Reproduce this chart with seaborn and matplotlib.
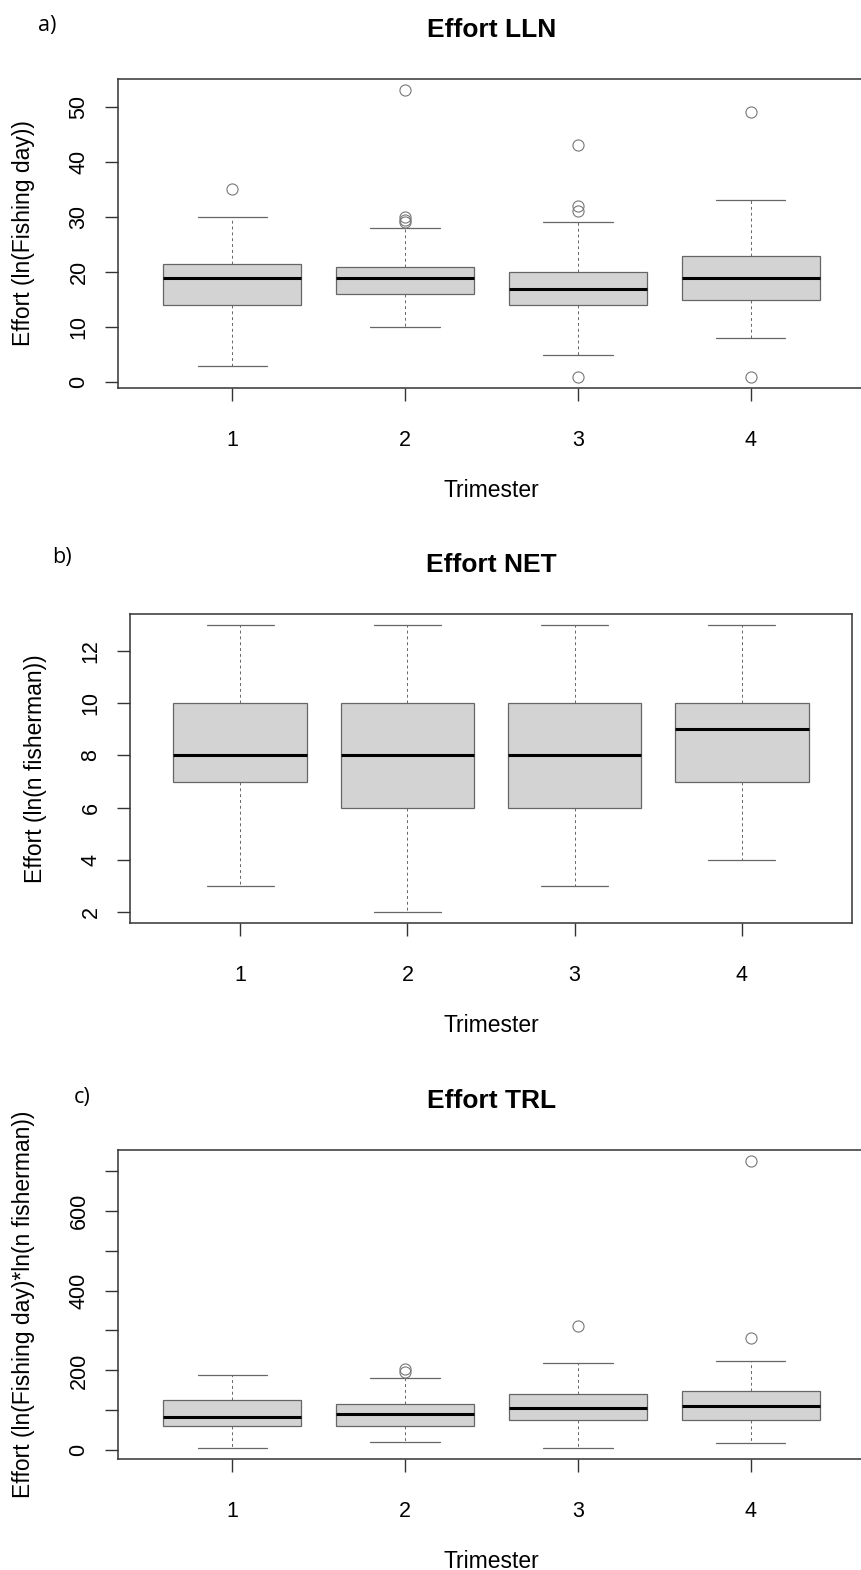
import pandas as pd
import numpy as np
import matplotlib
matplotlib.use("Agg")
import matplotlib.pyplot as plt
import seaborn as sns

# trimester categories on the x axis
trimesters = ["1", "2", "3", "4"]

# Effort LLN (ln fishing day), one list per trimester
lln_t1 = [3, 10, 14, 17, 19, 20, 21.5, 30, 35]
lln_t2 = [10, 12, 13, 14, 15, 16, 17, 17, 18, 18.5, 19, 19.5, 20, 20, 20.5, 21,
          28, 29, 29.5, 30, 53]
lln_t3 = [1, 5, 9, 12, 14, 15, 16, 16.5, 17, 18, 18.5, 19, 20, 29, 31, 32, 43]
lln_t4 = [1, 8, 15, 17, 19, 21, 23, 33, 49]

# Effort NET (ln n fisherman)
net_t1 = [3, 5, 7, 7, 8, 9, 10, 12, 13]
net_t2 = [2, 4, 6, 7, 8, 9, 10, 12, 13]
net_t3 = [3, 5, 6, 7, 8, 9, 10, 11, 13]
net_t4 = [4, 6, 7, 8, 9, 9, 10, 12, 13]

# Effort TRL (ln fishing day * ln n fisherman)
trl_t1 = [7, 40, 61, 75, 83, 100, 126, 160, 188]
trl_t2 = [21, 40, 55, 62, 75, 85, 91, 100, 108, 115, 181, 197, 203]
trl_t3 = [7, 50, 75, 90, 105, 120, 141, 218, 312]
trl_t4 = [18, 40, 60, 75, 90, 100, 112, 125, 135, 148, 224, 281, 723]

lln_ticks = [0, 10, 20, 30, 40, 50]
net_ticks = [2, 4, 6, 8, 10, 12]
trl_ticks = [0, 100, 200, 300, 400, 500, 600, 700]
trl_ticklabels = ["0", "", "200", "", "400", "", "600", ""]

BOX_FILL = "#d3d3d3"
LINE = "#666666"
W, H = 862, 1570


def r_ylim(groups):
    # R extends the data range by 4% on each side
    lo = min(min(g) for g in groups)
    hi = max(max(g) for g in groups)
    pad = (hi - lo) * 0.04
    return lo - pad, hi + pad


def panel(rect, groups, title, ylabel, yticks, yticklabels, tag, tag_xy):
    l, t, r, b = rect
    ax = fig.add_axes([l / W, 1 - b / H, (r - l) / W, (b - t) / H])
    df = pd.DataFrame({
        "Trimester": np.repeat(trimesters, [len(g) for g in groups]),
        "effort": np.concatenate(groups),
    })
    sns.boxplot(data=df, x="Trimester", y="effort", order=trimesters, ax=ax,
                color=BOX_FILL, saturation=1, linecolor=LINE, linewidth=0.9,
                width=0.8, fliersize=8,
                whiskerprops=dict(linestyle=(0, (3, 3)), linewidth=0.7),
                capprops=dict(linewidth=0.9),
                medianprops=dict(color="black", linewidth=2.2),
                flierprops=dict(marker="o", markerfacecolor="none",
                                markeredgecolor="#777777", markeredgewidth=0.8))
    ax.set_xlim(-0.66, 3.66)
    ax.set_ylim(*r_ylim(groups))
    ax.set_yticks(yticks)
    ax.set_yticklabels(yticklabels, rotation=90, va="center")
    ax.tick_params(axis="both", direction="out", length=9.5, width=1,
                   color="#333333", labelcolor="black", labelsize=15.5)
    ax.tick_params(axis="y", pad=11)
    ax.tick_params(axis="x", pad=21)
    for s in ax.spines.values():
        s.set_visible(True)
        s.set_color("#333333")
        s.set_linewidth(1.1)
    ax.set_xlabel("Trimester", fontsize=16.5, labelpad=20, color="black")
    ax.set_ylabel(ylabel, fontsize=16.5, labelpad=24, color="black")
    ax.set_title(title, fontsize=19, fontweight="bold", pad=30, color="black")
    fig.text(tag_xy[0] / W, 1 - tag_xy[1] / H, tag, fontsize=15.5,
             family=["Open Sans", "DejaVu Sans"], ha="center", va="center",
             color="black")
    return ax


sns.set_style("ticks")
plt.rcParams["font.family"] = ["Liberation Sans", "DejaVu Sans"]
plt.rcParams["text.color"] = "black"

fig = plt.figure(figsize=(W / 100, H / 100), dpi=100)

panel((118, 79, 865, 388), [lln_t1, lln_t2, lln_t3, lln_t4], "Effort LLN",
      "Effort (ln(Fishing day))", lln_ticks, [str(v) for v in lln_ticks],
      "a)", (47, 26))
panel((130, 614, 852, 923), [net_t1, net_t2, net_t3, net_t4], "Effort NET",
      "Effort (ln(n fisherman))", net_ticks, [str(v) for v in net_ticks],
      "b)", (62, 558))
panel((118, 1150, 865, 1459), [trl_t1, trl_t2, trl_t3, trl_t4], "Effort TRL",
      "Effort (ln(Fishing day)*ln(n fisherman))", trl_ticks, trl_ticklabels,
      "c)", (82, 1098))

fig.savefig("out.png", dpi=100)
